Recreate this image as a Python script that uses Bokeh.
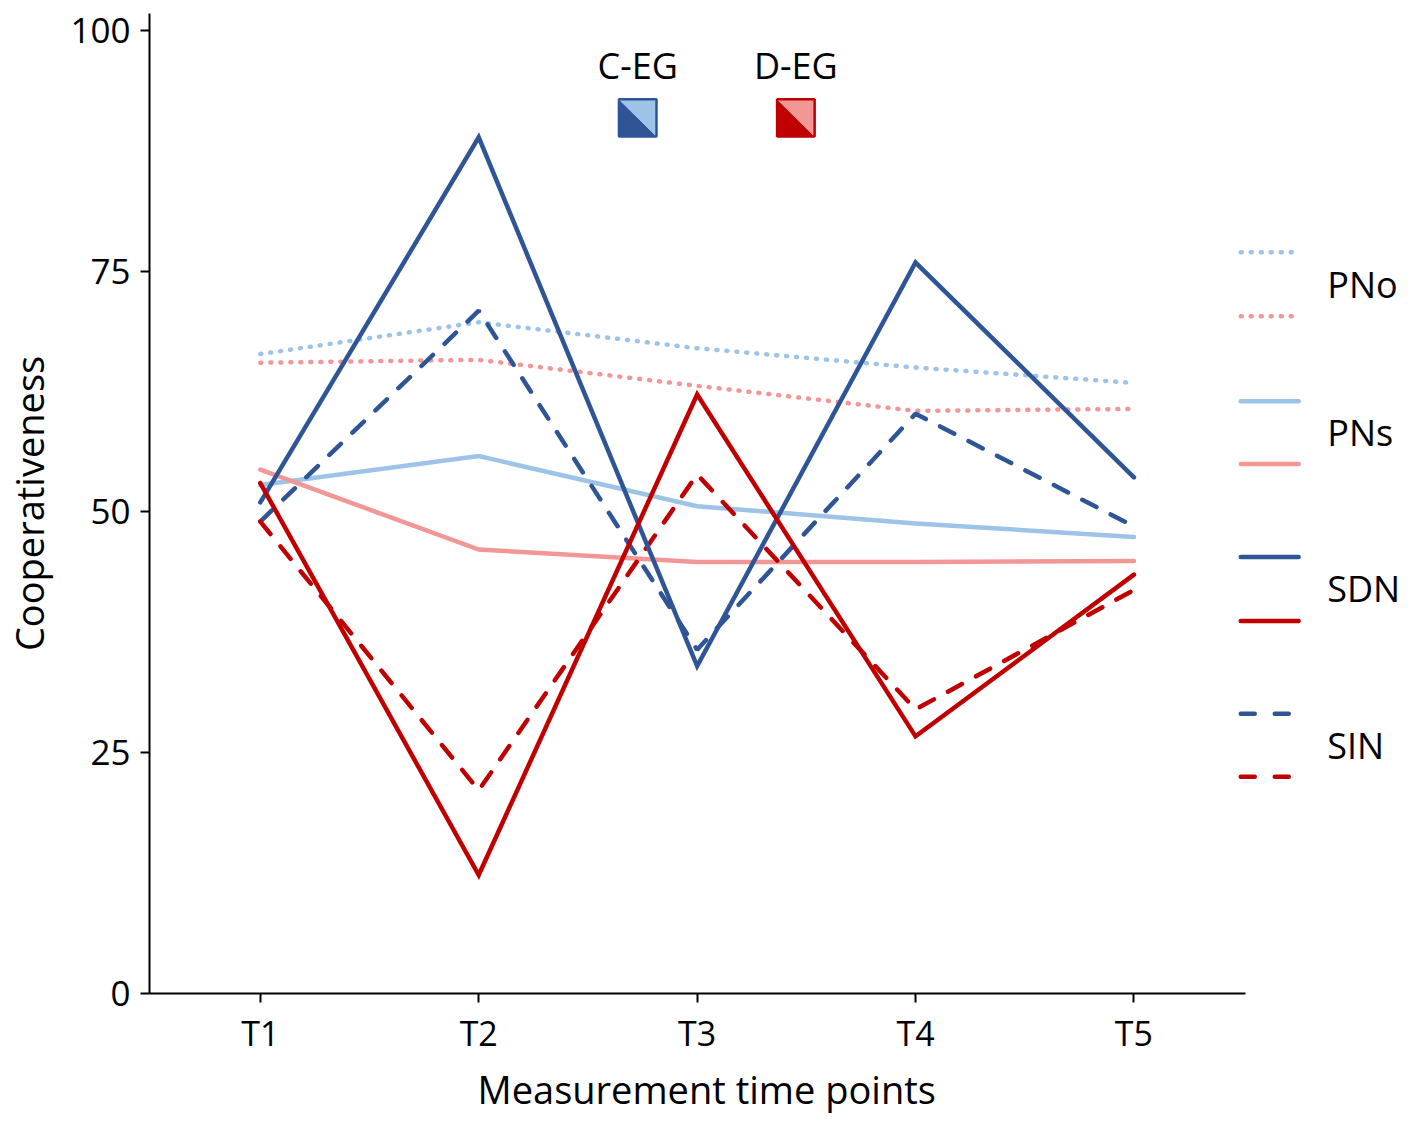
from bokeh.plotting import figure
from bokeh.models import Range1d, FixedTicker, Title
from bokeh.core.properties import value
from bokeh.embed import file_html
from bokeh.resources import INLINE

# ---- data ----
times = ["T1", "T2", "T3", "T4", "T5"]
pno_ceg = [66.4, 69.7, 67.0, 65.0, 63.4]
pno_deg = [65.5, 65.8, 63.1, 60.5, 60.7]
pns_ceg = [52.8, 55.8, 50.6, 48.8, 47.4]
pns_deg = [54.4, 46.1, 44.8, 44.8, 44.9]
sdn_ceg = [51.0, 88.9, 34.0, 75.9, 53.6]
sdn_deg = [53.0, 12.3, 62.2, 26.7, 43.5]
sin_ceg = [49.0, 70.9, 35.7, 60.2, 48.5]
sin_deg = [49.0, 21.1, 53.9, 29.5, 41.9]
groups = ["C-EG", "D-EG"]
legend_labels = ["PNo", "PNs", "SDN", "SIN"]
y_ticks = [0, 25, 50, 75, 100]

# ---- styles ----
DARK_BLUE = "#2F5597"
LIGHT_BLUE = "#9DC3E6"
DARK_RED = "#C00000"
LIGHT_RED = "#F29696"
FONT = "Open Sans"

xs = list(range(1, len(times) + 1))

X0, X1 = 0.4926, 6.225
Y0, Y1 = 0.0, 101.76

p = figure(width=1401, height=1116, x_range=Range1d(X0, X1), y_range=Range1d(Y0, Y1),
           output_backend="svg", toolbar_location=None,
           min_border_left=147, min_border_right=0, min_border_top=13, min_border_bottom=122)
p.outline_line_color = None
p.xgrid.visible = False
p.ygrid.visible = False
p.background_fill_color = "white"

for ax in (p.xaxis[0], p.yaxis[0]):
    ax.axis_line_width = 2
    ax.axis_line_color = "black"
    ax.major_tick_line_width = 2
    ax.major_tick_line_color = "black"
    ax.major_tick_out = 9
    ax.major_tick_in = 0
    ax.minor_tick_line_color = None
    ax.major_label_text_font = FONT
    ax.major_label_text_color = "black"
    ax.axis_label_text_font = FONT
    ax.axis_label_text_font_size = "38px"
    ax.axis_label_text_font_style = "normal"
    ax.axis_label_text_color = "black"
    ax.major_label_standoff = 10

p.xaxis.ticker = FixedTicker(ticks=xs)
p.xaxis.major_label_overrides = {x: t for x, t in zip(xs, times)}
p.xaxis.major_label_text_font_size = "34px"
p.xaxis.major_label_standoff = 7
p.xaxis.bounds = (X0, 5.51)

p.yaxis.ticker = FixedTicker(ticks=y_ticks)
p.yaxis.major_label_text_font_size = "35px"
p.yaxis.bounds = (Y0, Y1)
p.yaxis.axis_label = "Cooperativeness"
p.yaxis.axis_label_standoff = 12

# x axis title, centred under the axis line (not the whole frame)
xt = Title(text="Measurement time points", align="left", offset=328, standoff=4,
           text_font=FONT, text_font_size="38px", text_font_style="normal",
           text_color="black")
p.add_layout(xt, "below")

DOT = dict(line_width=4.5, line_dash="1 9", line_cap="round")
SOLID = dict(line_width=4.5, line_cap="round", line_join="miter")
DASH = dict(line_width=4.5, line_dash="16 16", line_cap="round")

p.line(xs, pno_ceg, line_color=LIGHT_BLUE, **DOT)
p.line(xs, pno_deg, line_color=LIGHT_RED, **DOT)
p.line(xs, pns_ceg, line_color=LIGHT_BLUE, **SOLID)
p.line(xs, pns_deg, line_color=LIGHT_RED, **SOLID)
p.line(xs, sin_ceg, line_color=DARK_BLUE, **DASH)
p.line(xs, sin_deg, line_color=DARK_RED, **DASH)
p.line(xs, sdn_ceg, line_color=DARK_BLUE, **SOLID)
p.line(xs, sdn_deg, line_color=DARK_RED, **SOLID)

# ---- top legend (group squares) ----
sq_w, sq_h = 0.172, 3.85
sq_y0 = 89.0
for gx, name, dark, light in [(2.728, groups[0], DARK_BLUE, LIGHT_BLUE),
                              (3.452, groups[1], DARK_RED, LIGHT_RED)]:
    a, b = gx - sq_w / 2, gx + sq_w / 2
    c, d = sq_y0, sq_y0 + sq_h
    p.patch([a, a, b], [d, c, c], fill_color=dark, line_color=dark, line_width=1)
    p.patch([a, b, b], [d, d, c], fill_color=light, line_color=light, line_width=1)
    p.patch([a, b, b, a], [c, c, d, d], fill_color=None, line_color=dark, line_width=2.5)
    p.text([gx], [96.4], text=[name], text_font=value(FONT), text_font_size="36px",
           text_align="center", text_baseline="middle", text_color="black")

# ---- right legend ----
lx = [5.489, 5.754]
tx = 5.885
entries = [
    (legend_labels[0], 76.97, 70.33, LIGHT_BLUE, LIGHT_RED, DOT),
    (legend_labels[1], 61.51, 54.98, LIGHT_BLUE, LIGHT_RED, SOLID),
    (legend_labels[2], 45.33, 38.69, DARK_BLUE, DARK_RED, SOLID),
    (legend_labels[3], 29.05, 22.51, DARK_BLUE, DARK_RED, DASH),
]
for lab, yb, yr, cb, cr, sty in entries:
    st = dict(sty)
    if sty is DASH:
        st["line_dash"] = "14 20"
    p.line(lx, [yb, yb], line_color=cb, **st)
    p.line(lx, [yr, yr], line_color=cr, **st)
    p.text([tx], [(yb + yr) / 2], text=[lab], text_font=value(FONT), text_font_size="36px",
           text_align="left", text_baseline="middle", text_color="black")

open("out.html", "w").write(file_html(p, INLINE))
